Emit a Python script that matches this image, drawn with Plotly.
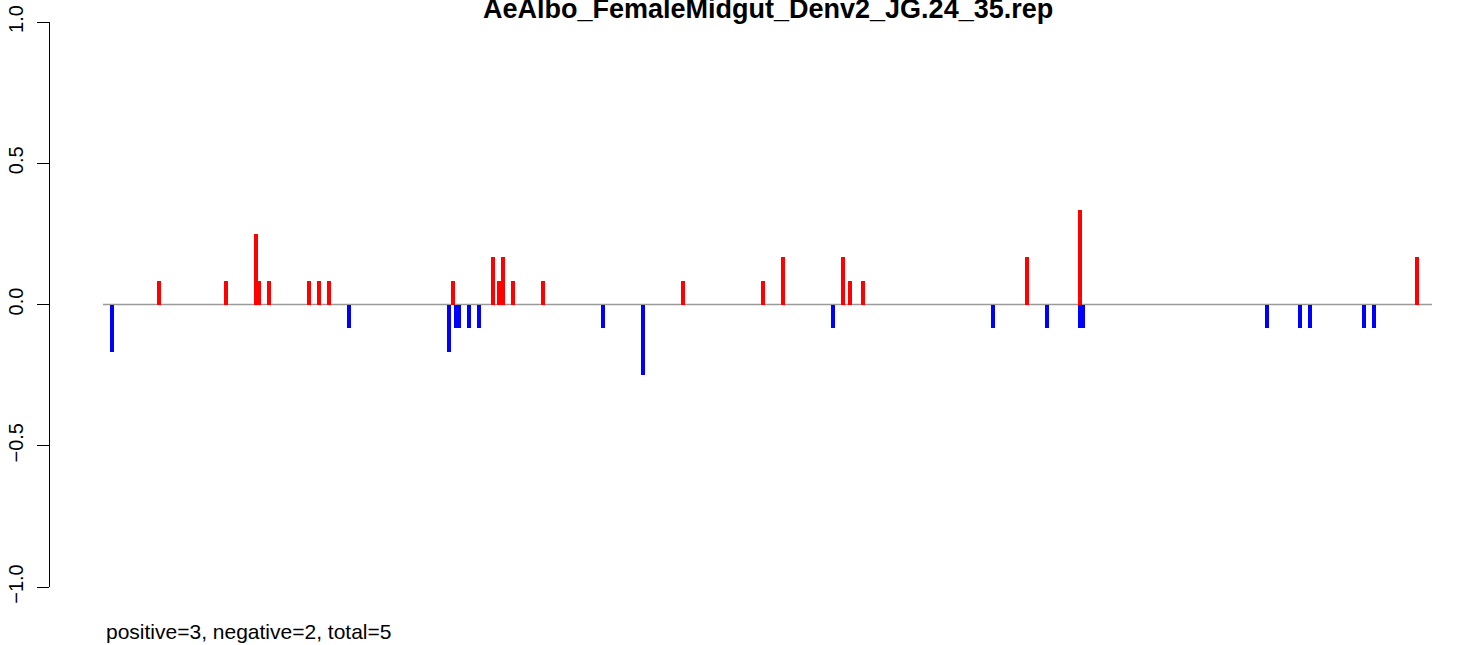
import plotly.graph_objects as go

# ---- data (positions in arbitrary genomic units, values = score) ----
pos_x = [56, 123, 153, 156, 166, 206, 216, 226, 350, 390, 396, 400, 410, 440,
         580, 660, 680, 740, 747, 760, 924, 977, 1314]
pos_y = [1/12, 1/12, 3/12, 1/12, 1/12, 1/12, 1/12, 1/12, 1/12, 2/12, 1/12, 2/12, 1/12, 1/12,
         1/12, 1/12, 2/12, 2/12, 1/12, 1/12, 2/12, 4/12, 2/12]

neg_x = [9, 246, 346, 353, 356, 366, 376, 500, 540, 730, 890, 944, 977, 980,
         1164, 1197, 1207, 1261, 1271]
neg_y = [-2/12, -1/12, -2/12, -1/12, -1/12, -1/12, -1/12, -1/12, -3/12, -1/12, -1/12, -1/12, -1/12, -1/12,
         -1/12, -1/12, -1/12, -1/12, -1/12]

baseline_start, baseline_end = 0, 1329
x_range = [-53, 1329]
y_ticks = [-1.0, -0.5, 0.0, 0.5, 1.0]
y_ticklabels = ["\u22121.0", "\u22120.5", "0.0", "0.5", "1.0"]

title_text = "AeAlbo_FemaleMidgut_Denv2_JG.24_35.rep"
footer_text = "positive=3, negative=2, total=5"

FONT = "Liberation Sans, Arial, Helvetica, sans-serif"
W, H = 1467, 645
ML, MR, MT, MB = 50, 35, 22, 58
PW = W - ML - MR
PH = H - MT - MB

fig = go.Figure()
fig.add_trace(go.Bar(x=pos_x, y=pos_y, width=4, marker=dict(color="#FF0000", line=dict(width=0)),
                     showlegend=False, hoverinfo="x+y"))
fig.add_trace(go.Bar(x=neg_x, y=neg_y, width=4, marker=dict(color="#0000FF", line=dict(width=0)),
                     showlegend=False, hoverinfo="x+y"))

# baseline
fig.add_shape(type="line", xref="x", yref="y", x0=baseline_start, x1=baseline_end, y0=0, y1=0,
              line=dict(color="#9a9a9a", width=1.3), layer="below")

fig.update_layout(
    width=W, height=H,
    margin=dict(l=ML, r=MR, t=MT, b=MB, pad=0, autoexpand=False),
    plot_bgcolor="white", paper_bgcolor="white",
    barmode="overlay",
    bargap=0,
    font=dict(family=FONT, color="black", size=20),
    xaxis=dict(range=x_range, visible=False, showgrid=False, zeroline=False, fixedrange=True,
               automargin=False),
    yaxis=dict(range=[-1, 1], tickvals=y_ticks, ticktext=y_ticklabels, tickangle=-90,
               ticks="outside", ticklen=12, tickwidth=1, tickcolor="black",
               showline=True, linecolor="black", linewidth=1,
               showgrid=False, zeroline=False, fixedrange=True, automargin=False,
               tickfont=dict(family=FONT, size=20, color="black"),
               ticklabelstandoff=6),
)

fig.add_annotation(text="<b>" + title_text + "</b>", xref="paper", yref="paper",
                   x=(768 - ML) / PW, y=1 + (MT - 9) / PH, xanchor="center", yanchor="middle",
                   showarrow=False, font=dict(family=FONT, size=27, color="black"))
fig.add_annotation(text=footer_text, xref="paper", yref="paper",
                   x=(104 - ML) / PW, y=-(631 - (MT + PH)) / PH, xanchor="left", yanchor="middle",
                   showarrow=False, font=dict(family=FONT, size=21, color="black"))

fig.write_html("out.html", config={"displayModeBar": False},
               post_script="document.body.style.margin='0';document.body.style.overflow='hidden';")
